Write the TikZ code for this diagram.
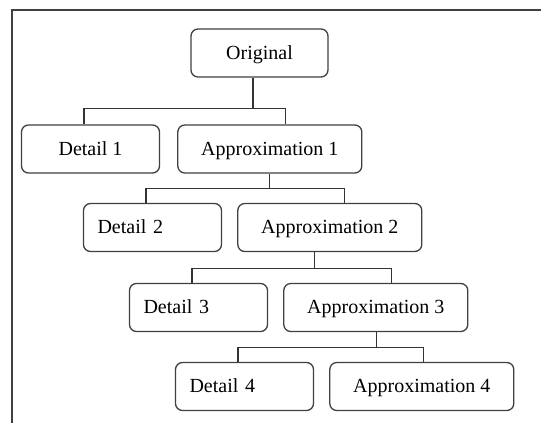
\documentclass[tikz,border=0pt]{standalone}
\usepackage{fontspec}
\setmainfont{Liberation Serif}
\usetikzlibrary{positioning}

\newcommand\detailfont{\fontsize{20}{24}\selectfont\spaceskip=3pt\relax}

\begin{document}
\begin{tikzpicture}[x=1pt,y=-1pt,line width=1.3pt,node distance=15pt]
    % `stage' is used for every box, `link' for the tree lines.
    % `detailleft' puts the label near the left side of the box.
    \tikzstyle{stage} = [draw=black!75,rounded corners=7pt,minimum height=48pt,
                         inner sep=0pt,text height=15pt,text depth=3pt,
                         font=\fontsize{20}{24}\selectfont]
    \tikzstyle{detail} = [stage,minimum width=138pt]
    \tikzstyle{detailleft} = [stage,text width=110pt,align=left,inner xsep=14pt,
                              font=\detailfont]
    \tikzstyle{approx} = [stage,minimum width=184pt]
    \tikzstyle{link} = [draw=black!80,line width=1.2pt]
    %
    \useasboundingbox (0,0) rectangle (541,423);
    % Frame, open at the right and bottom.
    \draw[black!75,line width=1.5pt] (12,423) -- (12,10) -- (541,10);
    %
    \node[stage,minimum width=137pt] (orig) at (259.5,53) {Original};

    \node[detail] (d1) at (90.5,149) {Detail 1};
    \node[approx,right=17pt of d1] (a1) {Approximation 1};

    \node[detailleft] (d2) at (152.5,227.5) {Detail 2};
    \node[approx,right=of d2] (a2) {Approximation 2};

    \node[detailleft] (d3) at (198.5,307.5) {Detail 3};
    \node[approx,right=of d3] (a3) {Approximation 3};

    \node[detailleft] (d4) at (244.5,386.5) {Detail 4};
    \node[approx,right=of d4] (a4) {Approximation 4};
    %
    % Draw lines.
    \draw[link] ([xshift=-6.5]orig.south) -- ++(0,31) coordinate (j0);
    \draw[link] ([xshift=-6.5]d1.north) |- (j0) -| ([xshift=16]a1.north);

    \draw[link] (a1.south) -- ++(0,15) coordinate (j1);
    \draw[link] ([xshift=-6.5]d2.north) |- (j1) -| ([xshift=15]a2.north);

    \draw[link] ([xshift=-15]a2.south) -- ++(0,16) coordinate (j2);
    \draw[link] ([xshift=-6.5]d3.north) |- (j2) -| ([xshift=16]a3.north);

    \draw[link] ([xshift=1]a3.south) -- ++(0,15) coordinate (j3);
    \draw[link] ([xshift=-6.5]d4.north) |- (j3) -| ([xshift=2]a4.north);
\end{tikzpicture}
\end{document}
